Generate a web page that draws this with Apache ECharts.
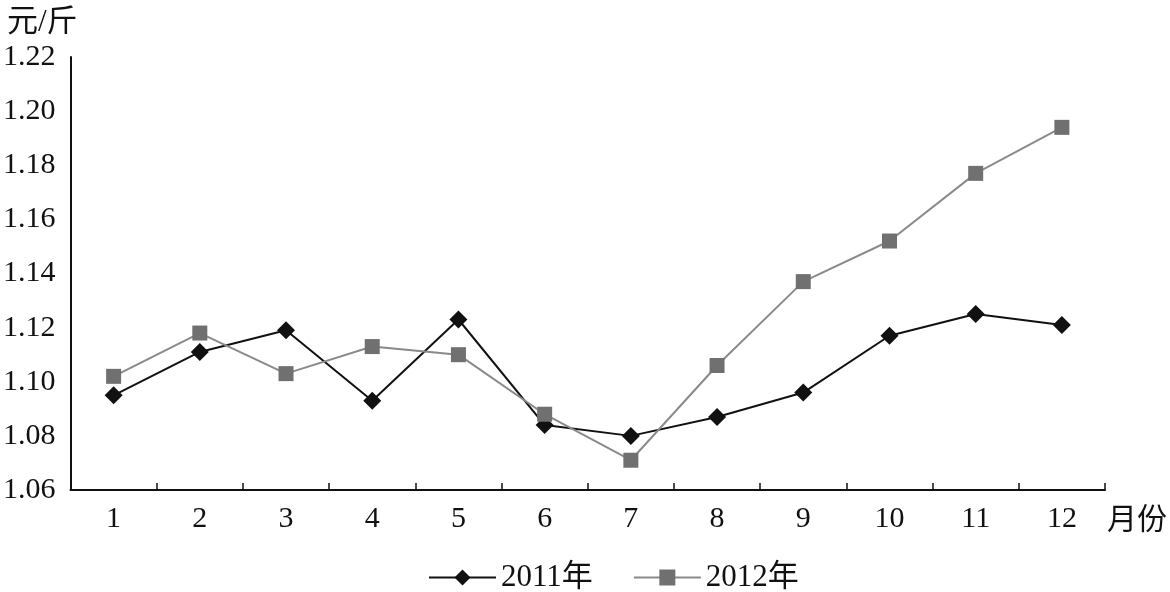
<!DOCTYPE html>
<html>
<head>
<meta charset="utf-8">
<script src="https://cdn.jsdelivr.net/npm/echarts@6/dist/echarts.min.js"></script>
<style>
html,body{margin:0;padding:0;background:#fff;}
#chart{width:1170px;height:592px;}
</style>
</head>
<body>
<div id="chart"></div>
<script>
var months = ['1','2','3','4','5','6','7','8','9','10','11','12'];
var series2011 = [1.095, 1.111, 1.119, 1.093, 1.123, 1.084, 1.080, 1.087, 1.096, 1.117, 1.125, 1.121];
var series2012 = [1.102, 1.118, 1.103, 1.113, 1.110, 1.088, 1.071, 1.106, 1.137, 1.152, 1.177, 1.194];
var yMin = 1.06, yMax = 1.22, yStep = 0.02;

var FONT = '"Liberation Serif", "Noto Sans CJK SC", serif';
var chart = echarts.init(document.getElementById('chart'));
chart.setOption({
  animation: false,
  backgroundColor: '#ffffff',
  title: {
    text: '元/斤', left: 2, top: 2,
    textStyle: {fontFamily: FONT, fontSize: 31, fontWeight: 'normal', color: '#111'}
  },
  grid: {left: 68, right: 62, top: 57, bottom: 102},
  legend: {
    left: 423, top: 557,
    itemWidth: 67, itemHeight: 20, itemGap: 40,
    textStyle: {fontFamily: FONT, fontSize: 31, color: '#111'},
    data: ['2011年', '2012年']
  },
  xAxis: {
    type: 'category', data: months, boundaryGap: true,
    name: '月份', nameLocation: 'end', nameGap: 2,
    nameTextStyle: {fontFamily: FONT, fontSize: 30, color: '#111', verticalAlign: 'top', align: 'left', padding: [16, 0, 0, 0]},
    axisLine: {lineStyle: {color: '#111', width: 2}},
    axisTick: {show: true, inside: true, length: 7, lineStyle: {color: '#111', width: 1.5}},
    axisLabel: {fontFamily: FONT, fontSize: 30, color: '#111', margin: 14},
    splitLine: {show: false}
  },
  yAxis: {
    type: 'value', min: yMin, max: yMax, interval: yStep,
    axisLine: {show: true, lineStyle: {color: '#111', width: 2}},
    axisTick: {show: false},
    splitLine: {show: false},
    axisLabel: {fontFamily: FONT, fontSize: 30, color: '#111', margin: 15, padding: [0, 0, 8, 0],
      formatter: function (v) { return v.toFixed(2); }}
  },
  series: [
    {
      name: '2011年', type: 'line', data: series2011,
      symbol: 'diamond', symbolSize: 18,
      lineStyle: {color: '#111', width: 2},
      itemStyle: {color: '#111'}
    },
    {
      name: '2012年', type: 'line', data: series2012,
      symbol: 'rect', symbolSize: 15,
      lineStyle: {color: '#8a8a8a', width: 2},
      itemStyle: {color: '#707070'}
    }
  ]
});
</script>
</body>
</html>
